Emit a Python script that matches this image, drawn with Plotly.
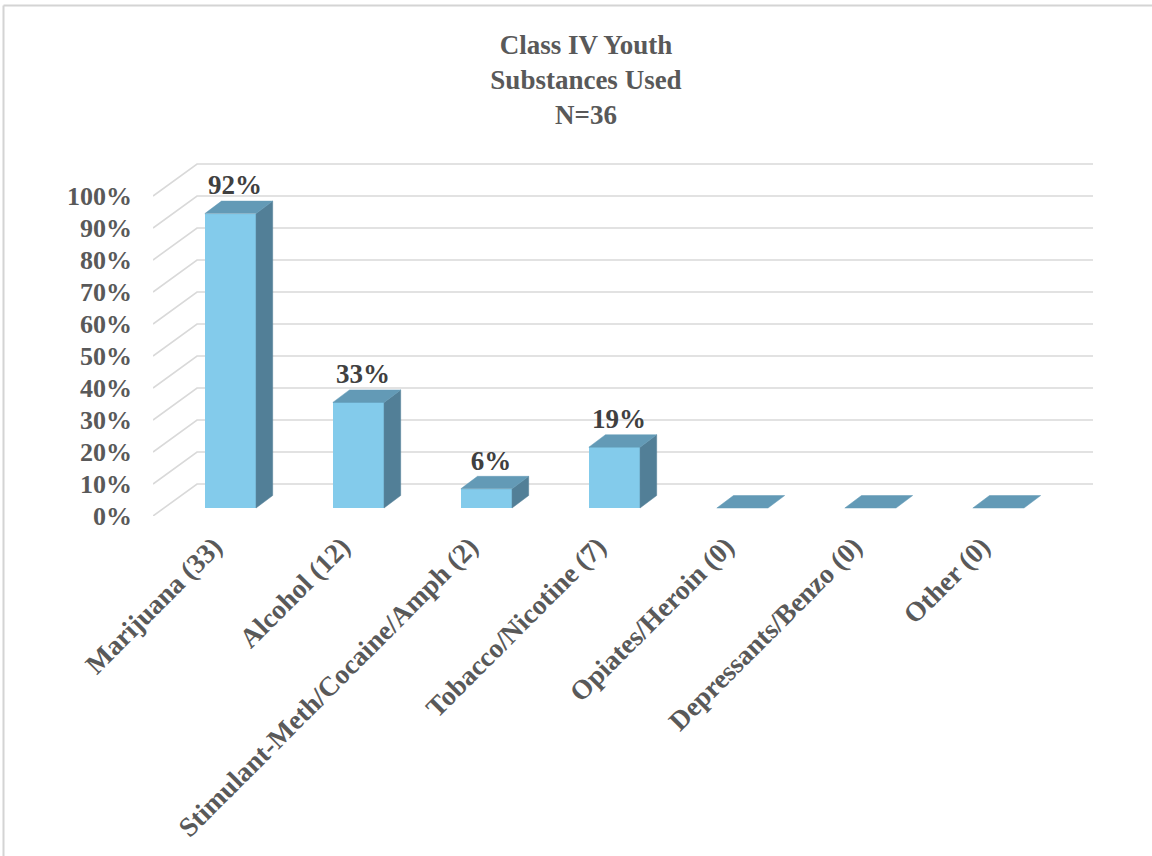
import plotly.graph_objects as go

# Chart data
categories = [
    "Marijuana (33)",
    "Alcohol (12)",
    "Stimulant-Meth/Cocaine/Amph (2)",
    "Tobacco/Nicotine (7)",
    "Opiates/Heroin (0)",
    "Depressants/Benzo (0)",
    "Other (0)",
]
percent_used = [92, 33, 6, 19, 0, 0, 0]
tick_values = [0, 10, 20, 30, 40, 50, 60, 70, 80, 90, 100]
tick_labels = [f"{v}%" for v in tick_values]

# Pseudo-3D geometry (axis units)
WALL_DX, WALL_DY = 0.344, 10.0      # depth of the back wall
BAR_SHIFT, BAR_BASE = 0.105, 2.5     # bar front-face position inside the floor
BAR_W = 0.4
BAR_DX, BAR_DY = 0.13, 3.9           # bar depth

FONT = "Liberation Serif"
GRID = "#d9d9d9"
FRONT = "#83cbeb"
TOP = "#639ab6"
SIDE = "#527f97"

n = len(categories)
x_left, x_right = -0.5, n - 0.5
xc = [i + BAR_SHIFT for i in range(n)]

fig = go.Figure()

# Front faces of the bars
fig.add_trace(go.Bar(
    x=xc, y=percent_used, base=BAR_BASE, width=BAR_W,
    marker=dict(color=FRONT, line=dict(width=0)),
    hoverinfo="skip", showlegend=False,
))

# Top and side faces
top_x, top_y, side_x, side_y = [], [], [], []
for c, v in zip(xc, percent_used):
    xl, xr = c - BAR_W / 2, c + BAR_W / 2
    t = BAR_BASE + v
    top_x += [xl, xr, xr + BAR_DX, xl + BAR_DX, xl, None]
    top_y += [t, t, t + BAR_DY, t + BAR_DY, t, None]
    if v > 0:
        side_x += [xr, xr + BAR_DX, xr + BAR_DX, xr, xr, None]
        side_y += [BAR_BASE, BAR_BASE + BAR_DY, t + BAR_DY, t, BAR_BASE, None]

fig.add_trace(go.Scatter(
    x=side_x, y=side_y, mode="lines", fill="toself", fillcolor=SIDE,
    line=dict(color=SIDE, width=0.5), hoverinfo="skip", showlegend=False,
))
fig.add_trace(go.Scatter(
    x=top_x, y=top_y, mode="lines", fill="toself", fillcolor=TOP,
    line=dict(color=TOP, width=0.5), hoverinfo="skip", showlegend=False,
))

# Value labels above each non-zero bar
lab_x = [c + BAR_DX / 2 - 0.03 for c, v in zip(xc, percent_used) if v > 0]
lab_y = [BAR_BASE + v + BAR_DY for v in percent_used if v > 0]
lab_t = [f"{v}%" for v in percent_used if v > 0]
fig.add_trace(go.Scatter(
    x=lab_x, y=lab_y, mode="text", text=lab_t, textposition="top center",
    textfont=dict(family=FONT, size=27, color="#404040", weight="bold"),
    hoverinfo="skip", showlegend=False,
))

# Gridlines: slanted side-wall segment + horizontal back-wall line
shapes = []
for v in tick_values:
    path = (f"M {x_left},{v} L {x_left + WALL_DX},{v + WALL_DY} "
            f"L {x_right + WALL_DX},{v + WALL_DY}")
    shapes.append(dict(type="path", path=path, xref="x", yref="y",
                       line=dict(color=GRID, width=1.6), layer="below"))

# Outer chart border (top and left edges)
L, T, B = 153, 156, 340
PW, PH = 1152 - L - 39, 856 - T - B
def px(p):
    return (p - L) / PW
def py(p):
    return (856 - B - p) / PH
shapes.append(dict(type="line", xref="paper", yref="paper",
                   x0=px(3.5), y0=py(5.5), x1=px(1160), y1=py(5.5),
                   line=dict(color="#d4d4d4", width=2)))
shapes.append(dict(type="line", xref="paper", yref="paper",
                   x0=px(3.5), y0=py(5.5), x1=px(3.5), y1=py(870),
                   line=dict(color="#d4d4d4", width=2)))

fig.update_layout(
    width=1152, height=856,
    margin=dict(l=L, r=39, t=T, b=B),
    paper_bgcolor="white", plot_bgcolor="white",
    shapes=shapes,
    title=dict(
        text="Class IV Youth<br>Substances Used<br>N=36",
        x=586 / 1152, xanchor="center", xref="container",
        y=1 - 54 / 856, yanchor="top", yref="container",
        font=dict(family=FONT, size=27, color="#595959", weight="bold"),
    ),
    xaxis=dict(
        range=[x_left, x_right + 0.5], showgrid=False, zeroline=False,
        showline=False, ticks="", tickmode="array",
        tickvals=list(range(n)), ticktext=categories, tickangle=-45,
        ticklabelstandoff=8, ticklabelshift=-3,
        tickfont=dict(family=FONT, size=27.5, color="#595959", weight="bold"),
    ),
    yaxis=dict(
        range=[0, PH / 3.2], showgrid=False, zeroline=False, showline=False,
        ticks="", tickmode="array", tickvals=tick_values, ticktext=tick_labels,
        ticklabelstandoff=20,
        tickfont=dict(family=FONT, size=26, color="#595959", weight="bold"),
    ),
    bargap=0,
)

fig.write_html("out.html")
